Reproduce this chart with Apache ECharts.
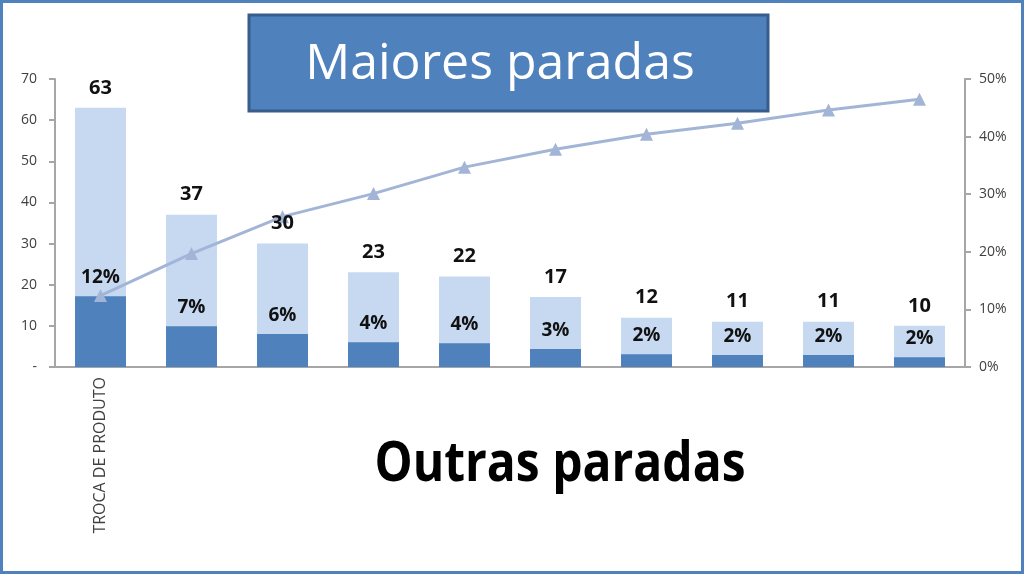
<!DOCTYPE html>
<html>
<head>
<meta charset="utf-8">
<script src="https://cdn.jsdelivr.net/npm/echarts@6/dist/echarts.min.js"></script>
<style>
html,body{margin:0;padding:0;background:#fff;}
#c{width:1024px;height:574px;}
</style>
</head>
<body>
<div id="c"></div>
<script>
const categories = ['TROCA DE PRODUTO', '', '', '', '', '', '', '', '', ''];
const totals = [63, 37, 30, 23, 22, 17, 12, 11, 11, 10];
const darkValues = [17.2, 9.9, 8.0, 6.0, 5.8, 4.4, 3.1, 2.9, 2.9, 2.4];
const pctLabels = ['12%', '7%', '6%', '4%', '4%', '3%', '2%', '2%', '2%', '2%'];
const cumulative = [12.4, 19.7, 26.1, 30.1, 34.7, 37.8, 40.4, 42.3, 44.6, 46.5];
const leftTicks = ['-', '10', '20', '30', '40', '50', '60', '70'];
const rightTicks = ['0%', '10%', '20%', '30%', '40%', '50%'];

const FONT = '"Open Sans", "Noto Sans", sans-serif';
const chart = echarts.init(document.getElementById('c'));
const barCommon = { type: 'bar', barWidth: '56%', barGap: '-100%' };
chart.setOption({
  animation: false,
  backgroundColor: '#ffffff',
  textStyle: { fontFamily: FONT },
  grid: { left: 55, right: 59, top: 79, bottom: 207 },
  xAxis: {
    type: 'category',
    data: categories,
    axisLine: { lineStyle: { color: '#a6a6a6', width: 2 } },
    axisTick: { show: false },
    axisLabel: { rotate: 90, color: '#404040', fontSize: 16, fontFamily: FONT, margin: 10, interval: 0 }
  },
  yAxis: [{
    type: 'value', min: 0, max: 70, interval: 10,
    splitLine: { show: false },
    axisLine: { show: true, lineStyle: { color: '#a6a6a6', width: 2 } },
    axisTick: { show: true, inside: false, length: 6, lineStyle: { color: '#a6a6a6', width: 2 } },
    axisLabel: { color: '#404040', fontSize: 14, fontFamily: FONT, margin: 18,
      formatter: (v) => leftTicks[Math.round(v / 10)] }
  }, {
    type: 'value', min: 0, max: 50, interval: 10,
    splitLine: { show: false },
    axisLine: { show: true, lineStyle: { color: '#a6a6a6', width: 2 } },
    axisTick: { show: true, length: 6, lineStyle: { color: '#a6a6a6', width: 2 } },
    axisLabel: { color: '#404040', fontSize: 14, fontFamily: FONT, margin: 14,
      formatter: (v) => rightTicks[Math.round(v / 10)] }
  }],
  series: [Object.assign({}, barCommon, {
    data: totals,
    itemStyle: { color: '#c6d9f1' },
    z: 2
  }), Object.assign({}, barCommon, {
    data: darkValues,
    itemStyle: { color: '#4f81bd' },
    z: 3
  }), {
    type: 'line',
    yAxisIndex: 1,
    data: cumulative,
    symbol: 'triangle',
    symbolSize: 13,
    lineStyle: { color: '#a3b5d6', width: 3 },
    itemStyle: { color: '#a3b5d6' },
    z: 4
  }, Object.assign({}, barCommon, {
    data: totals,
    itemStyle: { color: 'rgba(0,0,0,0)' },
    label: { show: true, position: 'top', distance: 10, color: '#111', fontSize: 20, fontWeight: 'bold', fontFamily: FONT },
    z: 6
  }), Object.assign({}, barCommon, {
    data: darkValues,
    itemStyle: { color: 'rgba(0,0,0,0)' },
    label: { show: true, position: 'top', distance: 9, color: '#111', fontSize: 19, fontWeight: 'bold', fontFamily: FONT,
      formatter: (p) => pctLabels[p.dataIndex] },
    z: 6
  })],
  graphic: [{
    type: 'rect',
    shape: { x: 1.5, y: 1.5, width: 1021, height: 571 },
    style: { fill: 'none', stroke: '#4f81bd', lineWidth: 3 },
    z: 100
  }, {
    type: 'rect',
    shape: { x: 249, y: 15, width: 519, height: 96 },
    style: { fill: '#4f81bd', stroke: '#385d8a', lineWidth: 3 },
    z: 100
  }, {
    type: 'text',
    style: { text: 'Maiores paradas', fill: '#ffffff', font: '50px ' + FONT, x: 500, y: 65, textAlign: 'center', textVerticalAlign: 'middle' },
    z: 101
  }, {
    type: 'text',
    x: 560, y: 465,
    scaleY: 1.17,
    style: { text: 'Outras paradas', fill: '#000000', font: 'bold 48px ' + FONT, x: 0, y: 0, textAlign: 'center', textVerticalAlign: 'middle' },
    z: 101
  }]
});
</script>
</body>
</html>
